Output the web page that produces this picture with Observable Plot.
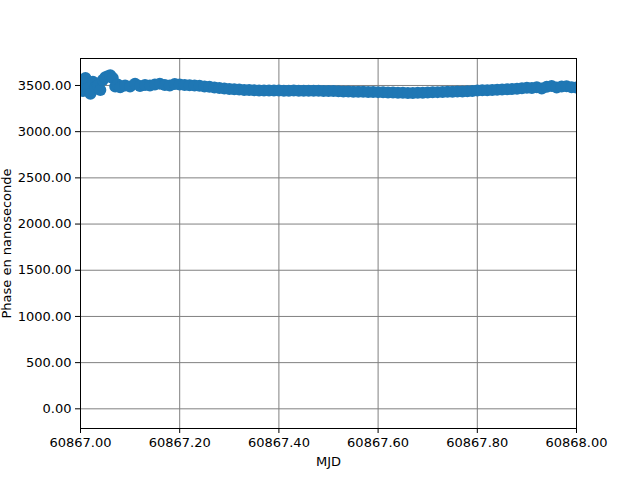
<!DOCTYPE html>
<html>
<head>
<meta charset="utf-8">
<script src="https://cdn.jsdelivr.net/npm/d3@7"></script>
<script src="https://cdn.jsdelivr.net/npm/@observablehq/plot@0.6"></script>
<style>
body { margin: 0; background: #fff; }
svg { font-family: "DejaVu Sans", sans-serif; }
</style>
</head>
<body>
<div id="chart"></div>
<script>
const mjd = [
  60867.000, 60867.005, 60867.010, 60867.015, 60867.020, 60867.025, 60867.030, 60867.035,
  60867.040, 60867.045, 60867.050, 60867.055, 60867.060, 60867.065, 60867.070, 60867.075,
  60867.080, 60867.090, 60867.100, 60867.110, 60867.120, 60867.130, 60867.140, 60867.150,
  60867.160, 60867.170, 60867.180, 60867.190, 60867.200, 60867.210, 60867.220, 60867.230,
  60867.240, 60867.250, 60867.260, 60867.270, 60867.280, 60867.290, 60867.300, 60867.310,
  60867.320, 60867.330, 60867.340, 60867.350, 60867.360, 60867.370, 60867.380, 60867.390,
  60867.400, 60867.410, 60867.420, 60867.430, 60867.440, 60867.450, 60867.460, 60867.470,
  60867.480, 60867.490, 60867.500, 60867.510, 60867.520, 60867.530, 60867.540, 60867.550,
  60867.560, 60867.570, 60867.580, 60867.590, 60867.600, 60867.610, 60867.620, 60867.630,
  60867.640, 60867.650, 60867.660, 60867.670, 60867.680, 60867.690, 60867.700, 60867.710,
  60867.720, 60867.730, 60867.740, 60867.750, 60867.760, 60867.770, 60867.780, 60867.790,
  60867.800, 60867.810, 60867.820, 60867.830, 60867.840, 60867.850, 60867.860, 60867.870,
  60867.880, 60867.890, 60867.900, 60867.910, 60867.920, 60867.930, 60867.940, 60867.950,
  60867.960, 60867.970, 60867.980, 60867.990, 60868.000
];
const phase = [
  3520, 3440, 3580, 3470, 3410, 3540, 3480, 3500,
  3450, 3560, 3590, 3600, 3610, 3580, 3490, 3510,
  3480, 3500, 3490, 3520, 3495, 3505, 3500, 3510,
  3520, 3505, 3500, 3515, 3510, 3505, 3502, 3500,
  3498, 3490, 3485, 3478, 3472, 3468, 3463, 3460,
  3456, 3452, 3450, 3448, 3446, 3446, 3445, 3445,
  3445, 3444, 3444, 3445, 3444, 3443, 3443, 3442,
  3442, 3441, 3440, 3439, 3437, 3436, 3434, 3433,
  3432, 3431, 3430, 3429, 3428, 3427, 3425, 3424,
  3422, 3421, 3419, 3418, 3420, 3422, 3424, 3426,
  3428, 3430, 3431, 3432, 3434, 3436, 3438, 3440,
  3445, 3447, 3449, 3452, 3455, 3456, 3458, 3462,
  3465, 3470, 3475, 3472, 3480, 3468, 3485, 3495,
  3478, 3490, 3492, 3480, 3478
];
const yTicks = [0, 500, 1000, 1500, 2000, 2500, 3000, 3500];
const xTicks = [60867.0, 60867.2, 60867.4, 60867.6, 60867.8, 60868.0];

const data = mjd.map((m, i) => ({mjd: m, phase: phase[i]}));

const chart = Plot.plot({
  width: 640,
  height: 480,
  marginLeft: 80,
  marginRight: 64,
  marginTop: 58,
  marginBottom: 52,
  style: {fontSize: "13px", fontFamily: "DejaVu Sans, sans-serif", color: "#000", background: "#fff"},
  x: {domain: [60867.0, 60868.0]},
  y: {domain: [-213, 3792]},
  marks: [
    Plot.gridX(xTicks, {stroke: "#808080", strokeOpacity: 1, strokeWidth: 1}),
    Plot.gridY(yTicks, {stroke: "#808080", strokeOpacity: 1, strokeWidth: 1}),
    Plot.dot(data, {x: "mjd", y: "phase", r: 6, fill: "#1f77b4", stroke: null, clip: true}),
    Plot.axisX(xTicks, {tickFormat: d3.format(".2f"), tickSize: 5, tickPadding: 4, label: "MJD", labelAnchor: "center", labelArrow: "none", labelOffset: 37}),
    Plot.axisY(yTicks, {tickFormat: d3.format(".2f"), tickSize: 5, tickPadding: 4, label: "Phase en nanoseconde", labelAnchor: "center", labelArrow: "none", labelOffset: 79}),
    Plot.frame({stroke: "#000", strokeWidth: 1})
  ]
});
document.getElementById("chart").appendChild(chart);
</script>
</body>
</html>
